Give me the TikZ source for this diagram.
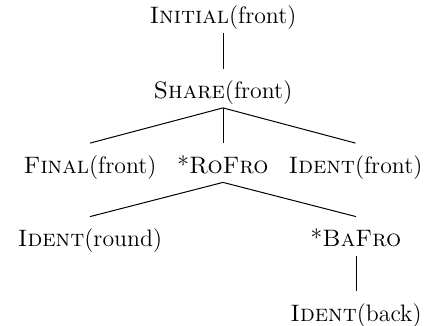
\documentclass[tikz,border=0pt]{standalone}
\begin{document}
\begin{tikzpicture}[x=0.5pt,y=-0.5pt,
  lab/.style={anchor=base, inner sep=0pt, text height=15pt, text depth=4.25pt, font=\fontsize{11.9}{13}\selectfont},
  edge/.style={line width=0.5pt}]
\useasboundingbox (0,0) rectangle (424,326);
\node[lab] (init) at (223,24) {\textsc{Initial}(front)};
\node[lab] (share) at (223,99) {\textsc{Share}(front)};
\node[lab] (final) at (90,173.5) {\textsc{Final}(front)};
\node[lab] (rofro) at (223,173.5) {*\textsc{RoFro}};
\node[lab] (identf) at (355.5,173.5) {\textsc{Ident}(front)};
\node[lab] (identr) at (90,247) {\textsc{Ident}(round)};
\node[lab] (bafro) at (356,247) {*\textsc{BaFro}};
\node[lab] (identb) at (356,321.5) {\textsc{Ident}(back)};
\draw[edge] (init.south) -- (share.north);
\draw[edge] (share.south) -- (final.north);
\draw[edge] (share.south) -- (rofro.north);
\draw[edge] (share.south) -- (identf.north);
\draw[edge] (rofro.south) -- (identr.north);
\draw[edge] (rofro.south) -- (bafro.north);
\draw[edge] (bafro.south) -- (identb.north);
\end{tikzpicture}
\end{document}
